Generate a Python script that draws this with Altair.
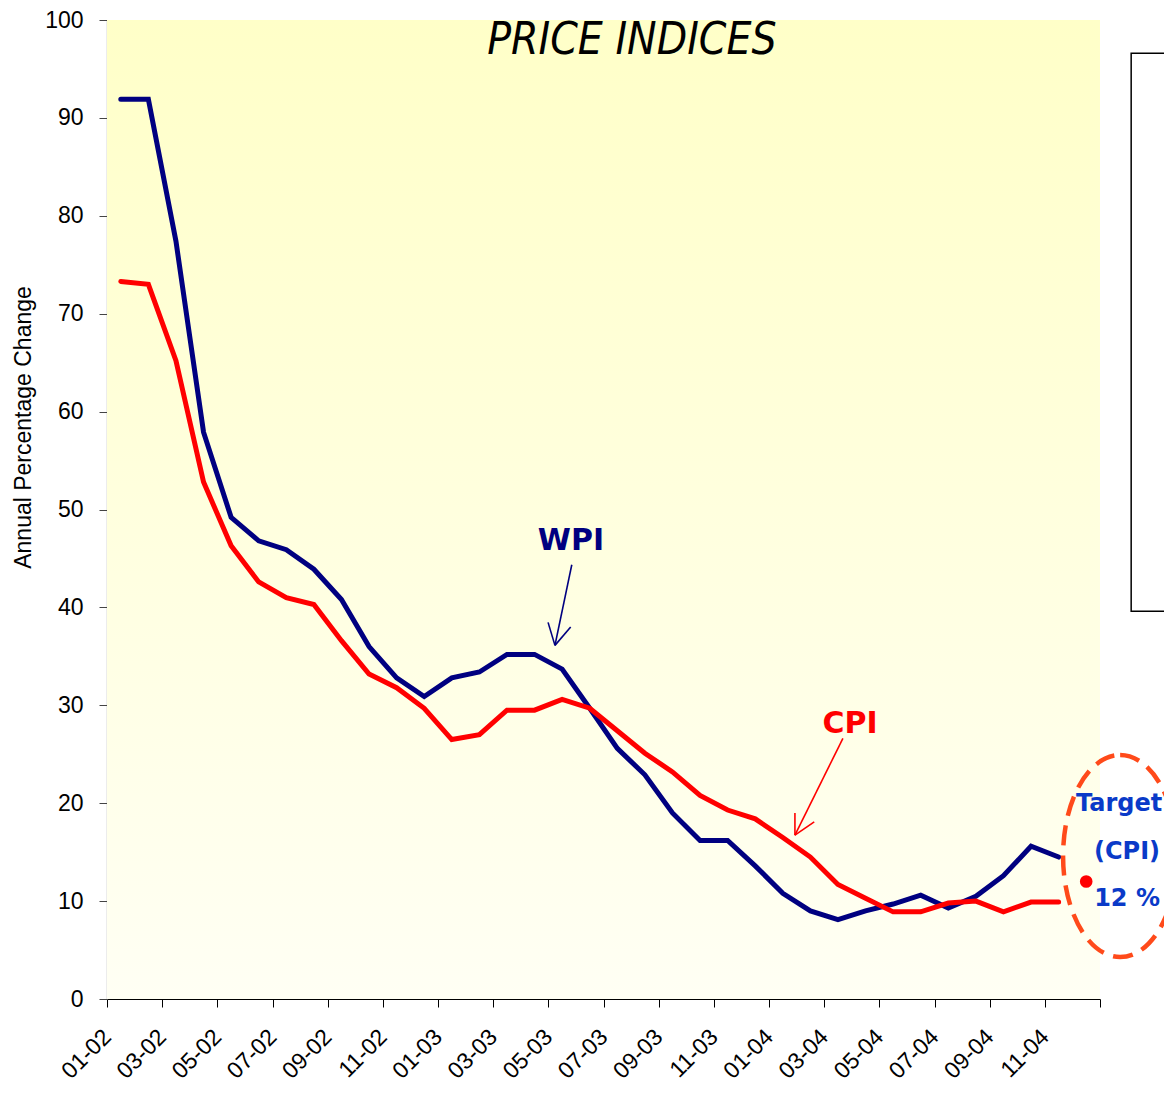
import altair as alt
import pandas as pd

months = ["01-02", "02-02", "03-02", "04-02", "05-02", "06-02", "07-02", "08-02", "09-02", "10-02", "11-02", "12-02",
          "01-03", "02-03", "03-03", "04-03", "05-03", "06-03", "07-03", "08-03", "09-03", "10-03", "11-03", "12-03",
          "01-04", "02-04", "03-04", "04-04", "05-04", "06-04", "07-04", "08-04", "09-04", "10-04", "11-04", "12-04"]

wpi = [91.9, 91.9, 77.4, 57.9, 49.2, 46.8, 45.9, 43.9, 40.8, 36.0, 32.8, 30.9,
       32.8, 33.4, 35.2, 35.2, 33.7, 29.7, 25.6, 22.9, 19.0, 16.2, 16.2, 13.6,
       10.8, 9.0, 8.1, 9.0, 9.7, 10.6, 9.3, 10.5, 12.6, 15.6, 14.5]

cpi = [73.3, 73.0, 65.2, 52.8, 46.3, 42.6, 41.0, 40.3, 36.6, 33.2, 31.8, 29.7,
       26.5, 27.0, 29.5, 29.5, 30.6, 29.7, 27.4, 25.1, 23.2, 20.8, 19.3, 18.4,
       16.5, 14.5, 11.7, 10.3, 8.9, 8.9, 9.8, 10.0, 8.9, 9.9, 9.9]

target_month = "12-04"
target_value = 12

W, H = 993, 979

xscale = alt.Scale(domain=[-0.5, 35.5], nice=False, zero=False)
yscale = alt.Scale(domain=[0, 100], nice=False, zero=False)

label_array = "[" + ",".join("'" + m + "'" for m in months) + "]"
x_axis = alt.Axis(
    values=[i - 0.5 for i in range(0, 37, 2)],
    labelExpr=f"datum.value < 35 ? {label_array}[round(datum.value + 0.5)] : ''",
    labelAngle=-45, labelAlign="right", labelBaseline="middle",
    labelFontSize=23, labelFont="Liberation Sans", labelColor="black",
    labelPadding=26, labelOverlap=False, labelFlush=False,
    tickSize=8, tickColor="black", domainColor="black", domainWidth=1.2,
    grid=False,
)
y_axis = alt.Axis(
    values=list(range(0, 101, 10)),
    labelFontSize=23, labelFont="Liberation Sans", labelColor="black",
    labelPadding=16, labelFlush=False,
    tickSize=8, tickColor="#444444", domainColor="#444444", domainWidth=1.2,
    grid=False,
    title="Annual Percentage Change", titleFont="Liberation Sans", titleFontSize=23,
    titleFontWeight="normal", titleColor="black",
    titleX=-84, titleY=407, titleBaseline="middle",
)

# plot-area background (gradient)
bg_df = pd.DataFrame({"x": [-0.5], "x2": [35.5], "y": [0], "y2": [100]})
bg_fill = alt.Gradient(
    gradient="linear",
    stops=[alt.GradientStop(color="#FFFFC8", offset=0), alt.GradientStop(color="#FFFFF4", offset=1)],
    x1=0, x2=0, y1=0, y2=1,
)
bg = alt.Chart(bg_df).mark_rect(fill=bg_fill).encode(
    x=alt.X("x:Q", scale=xscale, axis=x_axis, title=None), x2="x2:Q",
    y=alt.Y("y:Q", scale=yscale, axis=y_axis), y2="y2:Q")

wpi_df = pd.DataFrame({"idx": list(range(len(wpi))), "month": months[:len(wpi)], "value": wpi})
cpi_df = pd.DataFrame({"idx": list(range(len(cpi))), "month": months[:len(cpi)], "value": cpi})

wpi_line = alt.Chart(wpi_df).mark_line(color="#000080", strokeWidth=5, strokeCap="round").encode(
    x=alt.X("idx:Q", scale=xscale),
    y=alt.Y("value:Q", scale=yscale),
)
cpi_line = alt.Chart(cpi_df).mark_line(color="#FF0000", strokeWidth=5, strokeCap="round").encode(
    x=alt.X("idx:Q", scale=xscale),
    y=alt.Y("value:Q", scale=yscale),
)

# target point
tgt_df = pd.DataFrame({"idx": [months.index(target_month)], "value": [target_value]})
tgt = alt.Chart(tgt_df).mark_circle(color="#FF0000", size=160, opacity=1).encode(
    x=alt.X("idx:Q", scale=xscale), y=alt.Y("value:Q", scale=yscale))

# dashed ellipse around the target
ell_df = pd.DataFrame({"x": [36.23], "y": [14.6]})
ellipse_path = ("M0,-1 C0.312,-1 0.565,-0.552 0.565,0 C0.565,0.552 0.312,1 0,1 "
                "C-0.312,1 -0.565,0.552 -0.565,0 C-0.565,-0.552 -0.312,-1 0,-1 Z")
ell = alt.Chart(ell_df).mark_point(shape=ellipse_path, size=40804, filled=False, color="#FF4A1A",
                                   strokeWidth=4.5, strokeDash=[20, 10], opacity=1).encode(
    x=alt.X("x:Q", scale=xscale), y=alt.Y("y:Q", scale=yscale))

# arrows
arrow_df = pd.DataFrame({
    "x":  [16.35, 15.74, 15.74, 26.18, 24.44, 24.44],
    "y":  [44.36, 36.12, 36.12, 26.63, 16.73, 16.73],
    "x2": [15.74, 15.49, 16.31, 24.44, 24.44, 25.14],
    "y2": [36.12, 38.47, 37.99, 16.73, 19.01, 18.09],
    "c":  ["WPI", "WPI", "WPI", "CPI", "CPI", "CPI"],
})
arrows = alt.Chart(arrow_df).mark_rule(strokeWidth=1.6).encode(
    x=alt.X("x:Q", scale=xscale), y=alt.Y("y:Q", scale=yscale),
    x2="x2:Q", y2="y2:Q",
    color=alt.Color("c:N", scale=alt.Scale(domain=["WPI", "CPI"], range=["#000080", "#FF0000"]), legend=None),
)

# series labels
lab_df = pd.DataFrame({"x": [16.32, 26.44], "y": [46.8, 28.06], "t": ["WPI", "CPI"]})
labels = alt.Chart(lab_df).mark_text(font="DejaVu Sans", fontSize=30, fontWeight="bold",
                                     align="center", baseline="middle").encode(
    x=alt.X("x:Q", scale=xscale), y=alt.Y("y:Q", scale=yscale), text="t:N",
    color=alt.Color("t:N", scale=alt.Scale(domain=["WPI", "CPI"], range=["#000080", "#FF0000"]), legend=None),
)

# target text
tt_df = pd.DataFrame({"x": [36.19, 36.48, 36.48], "y": [19.9, 15.0, 10.2], "t": ["Target", "(CPI)", "12 %"]})
ttext = alt.Chart(tt_df).mark_text(font="DejaVu Sans", fontSize=24, fontWeight="bold", color="#0A3AC8",
                                   align="center", baseline="middle").encode(
    x=alt.X("x:Q", scale=xscale), y=alt.Y("y:Q", scale=yscale), text="t:N")

# title inside plot
title_df = pd.DataFrame({"x": [18.53], "y": [97.9], "t": ["PRICE INDICES"]})
title = alt.Chart(title_df).mark_text(font="Liberation Sans Narrow, DejaVu Sans Condensed, sans-serif",
                                      fontSize=44, fontStyle="italic", color="black",
                                      align="center", baseline="middle").encode(
    x=alt.X("x:Q", scale=xscale), y=alt.Y("y:Q", scale=yscale), text="t:N")

# (empty) legend frame at the right edge
box_df = pd.DataFrame({"x": [36.63], "x2": [40.5], "y": [39.6], "y2": [96.6]})
box = alt.Chart(box_df).mark_rect(fill="white", stroke="black", strokeWidth=1.5).encode(
    x=alt.X("x:Q", scale=xscale), x2="x2:Q", y=alt.Y("y:Q", scale=yscale), y2="y2:Q")

chart = alt.layer(bg, wpi_line, cpi_line, box, tgt, ell, arrows, labels, ttext, title).properties(
    width=W, height=H,
    autosize=alt.AutoSizeParams(type="none"),
    padding={"left": 99, "top": 12, "right": 64, "bottom": 87},
).configure_view(strokeWidth=0)

chart.save("out.html", embed_options={"renderer": "svg", "actions": False})
